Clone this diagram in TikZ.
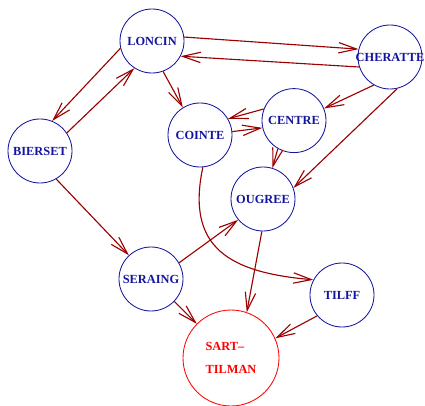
\documentclass[tikz,border=0pt]{standalone}
\usepackage{fontspec}
\setmainfont{Liberation Serif}
\usetikzlibrary{arrows.meta}
\definecolor{townblue}{RGB}{20,20,160}
\definecolor{roadred}{RGB}{155,0,0}

\begin{document}
\begin{tikzpicture}[scale=1,
    town/.style={circle, draw=townblue, line width=0.6pt, minimum size=1.6cm, inner sep=0pt,
        text=townblue, font=\fontsize{8.8}{10}\selectfont\bfseries},
    goal/.style={circle, draw=red, line width=0.6pt, minimum size=2.4cm, inner sep=0pt,
        text=red, align=left, font=\fontsize{8.8}{16.3}\selectfont\bfseries},
    road/.style={draw=roadred, line width=0.8pt, -{Straight Barb[length=4.5mm,width=2.6mm]}}]
    \useasboundingbox (0,0) rectangle (10.625,10.125);

    % Towns
    \node[town] (loncin) at (3.8,9.1) {LONCIN};
    \node[town] (cheratte) at (9.75,8.7) {\makebox[0pt]{CHERATTE}};
    \node[town] (bierset) at (1.0,6.35) {BIERSET};
    \node[town] (cointe) at (5.0,6.75) {COINTE};
    \node[town] (centre) at (7.35,7.11) {CENTRE};
    \node[town] (ougree) at (6.575,5.15) {OUGREE};
    \node[town] (seraing) at (3.775,3.15) {SERAING};
    \node[town] (tilff) at (8.55,2.75) {TILFF};
    \node[goal] (sart) at (5.775,1.175) {SART--\\TILMAN};

    % Roads in the north
    \draw[road] (loncin.7) -- (cheratte.166);
    \draw[road] (cheratte.198) -- (loncin.-28);
    \draw[road] (loncin.193) -- (bierset.68);
    \draw[road] (bierset.34) -- (loncin.237);
    \draw[road] (loncin.-70) -- (cointe.122);
    \draw[road] (cheratte.240) -- (centre.22);
    \draw[road] (cheratte.-77) -- (ougree.20);

    % Roads round the centre
    \draw[road] (centre.159) -- (cointe.30);
    \draw[road] (cointe.6) -- (centre.193);
    \draw[road] (centre.240) -- (ougree.73);
    \draw[road] (cointe.-85) to[out=-102, in=175, looseness=1.35] (tilff.152);

    % Roads to Sart-Tilman
    \draw[road] (bierset.-60) -- (seraing.133);
    \draw[road] (seraing.30) -- (ougree.220);
    \draw[road] (seraing.-44) -- (sart.135);
    \draw[road] (ougree.-92) -- (sart.71);
    \draw[road] (tilff.220) -- (sart.24);
\end{tikzpicture}
\end{document}
